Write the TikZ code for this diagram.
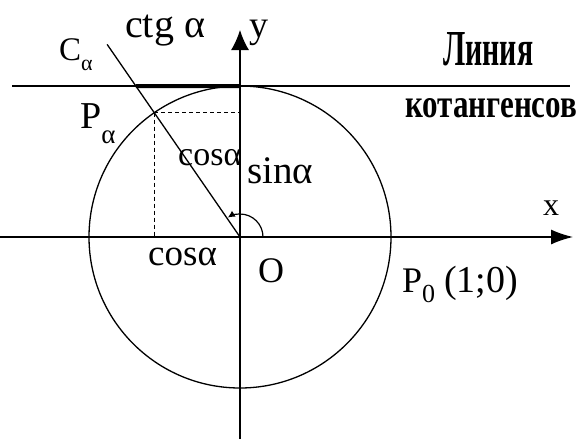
\documentclass[tikz,border=0pt]{standalone}
\usepackage{fontspec}
\usepackage{graphicx}
\setmainfont{Liberation Serif}
\usetikzlibrary{arrows.meta,calc}
\newcommand\fsz[1]{\fontsize{#1}{#1}\selectfont}
\begin{document}
\begin{tikzpicture}[x=1pt,y=-1pt,
  lbl/.style={inner sep=0pt,anchor=base west},
  ln/.style={line width=1.3pt,black},
  dsh/.style={line width=1pt,dash pattern=on 4pt off 3pt}]
\useasboundingbox (0,0) rectangle (578,439);
\coordinate (O) at (240,237);
% circle
\draw[ln] (O) circle (151pt);
% axes
\coordinate (xl) at (0,237);
\coordinate (xr) at (573,237);
\coordinate (yb) at (240,439);
\coordinate (yt) at (240,30);
\draw[ln,-{Latex[length=22pt,width=15pt]}] (xl) -- (xr);
\draw[ln,-{Latex[length=20pt,width=18pt]}] (yb) -- (yt);
% cotangent line
\coordinate (cl) at (12,86);
\coordinate (cr) at (570,86);
\draw[ln] (cl) -- (cr);
% ray
\coordinate (C) at ($(O)+(124.6:234pt)$);
\coordinate (P) at ($(O)+(124.6:151pt)$);
\coordinate (K) at (intersection of C--O and cl--cr);
\coordinate (T) at (240,86);
\draw[line width=4pt] (K) -- (T);
\draw[ln] (C) -- (O);
% dashed projections
\draw[dsh] (P) -- (O |- P);
\draw[dsh] (P) -- (P |- O);
% angle arc
\draw[line width=1.2pt,-{Latex[length=7pt,width=7pt]}] ($(O)+(23pt,0)$) arc[start angle=0,end angle=122,radius=23pt];
% labels
\node[lbl] (ctg) at (125,37) {\fsz{40}ctg α};
\node[lbl] (ylab) at (249,37) {\fsz{38}y};
\node[lbl] (Clab) at (59,60) {\fsz{33}C\raisebox{-10pt}{\fsz{22}α}};
\node[lbl] (Plab) at (80,128) {\fsz{38}P\raisebox{-15pt}{\fsz{27}α}};
\node[lbl] (cos1) at (178,165) {\fsz{34}cosα};
\node[lbl] (sin1) at (247,183) {\fsz{39}sinα};
\node[lbl] (cos2) at (148,265) {\fsz{37}cosα};
\node[lbl] (Olab) at (258,282) {\fsz{36}O};
\node[lbl] (xlab) at (543,215) {\fsz{32}x};
\node[lbl] (P0lab) at (402,292) {\fsz{36}P\raisebox{-10pt}{\fsz{26}0}\hspace{9pt}\fsz{38}(1;0)};
\node[lbl] (lin) at (443,65) {\resizebox{90pt}{33pt}{\bfseries Линия}};
\node[lbl] (kot) at (405,117) {\resizebox{172pt}{19pt}{\bfseries котангенсов}};
\end{tikzpicture}
\end{document}
